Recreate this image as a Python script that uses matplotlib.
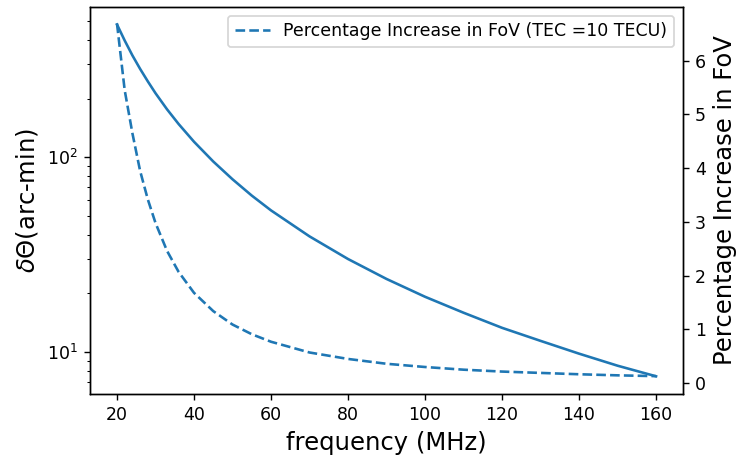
import matplotlib
matplotlib.use('Agg')
import matplotlib.pyplot as plt

# frequency grid (MHz)
freq = [20, 22, 24, 26, 28, 30, 33, 36, 40, 45, 50, 55, 60, 70, 80, 90, 100,
        110, 120, 130, 140, 150, 160]

# ionospheric shift in arc-min (left, log axis)
delta_theta = [480, 397, 333, 284, 245, 213, 176, 148, 120, 95, 77, 63.5, 53.3,
               39.2, 30.0, 23.7, 19.2, 15.9, 13.3, 11.4, 9.8, 8.5, 7.5]

# percentage increase in FoV (right, linear axis)
fov_increase = [6.69, 5.45, 4.65, 3.95, 3.42, 2.98, 2.46, 2.07, 1.68, 1.34, 1.09,
                0.91, 0.77, 0.57, 0.45, 0.36, 0.30, 0.25, 0.215, 0.19, 0.165,
                0.145, 0.13]

fig, ax = plt.subplots(figsize=(5.904, 3.664), dpi=125)
fig.subplots_adjust(left=0.122, right=0.9255, top=0.985, bottom=0.14)

ax.plot(freq, delta_theta, color='C0')
ax.set_yscale('log')
ax.set_xlabel('frequency (MHz)', fontsize=14)
ax.set_ylabel(r'$\delta\Theta$(arc-min)', fontsize=14)

ax2 = ax.twinx()
ax2.plot(freq, fov_increase, color='C0', linestyle='--',
         label='Percentage Increase in FoV (TEC =10 TECU)')
ax2.set_ylabel('Percentage Increase in FoV', fontsize=14)
ax2.set_yticks([0, 1, 2, 3, 4, 5, 6])
ax2.set_ylim(-0.2, 7.0)
ax2.legend(loc='upper right')

plt.savefig('out.png')
